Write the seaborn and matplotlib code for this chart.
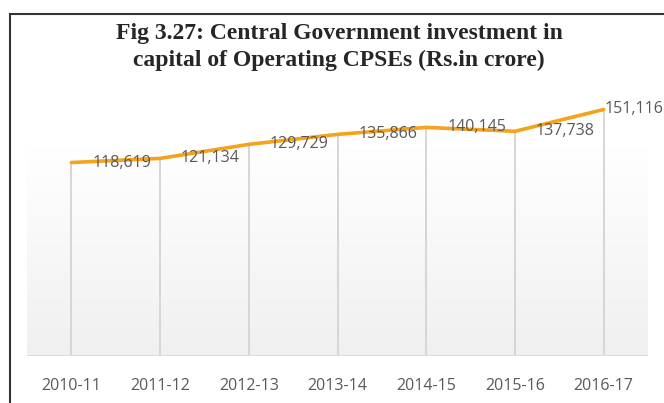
import numpy as np
import pandas as pd
import seaborn as sns
import matplotlib.pyplot as plt
from matplotlib.patches import Rectangle
from matplotlib.colors import LinearSegmentedColormap

# datos
years = ['2010-11', '2011-12', '2012-13', '2013-14', '2014-15', '2015-16', '2016-17']
investment = [118619, 121134, 129729, 135866, 140145, 137738, 151116]

df = pd.DataFrame({'year': years, 'investment': investment})

sns.set_style("white")
plt.rcParams['font.family'] = ['Open Sans', 'DejaVu Sans']

fig = plt.figure(figsize=(6.64, 4.03), dpi=100)
ax = fig.add_axes([27/664, 1 - 356/403, (648 - 27)/664, (356 - 95)/403])

# fondo con degradado blanco -> gris claro
grad = np.linspace(1.0, 0.0, 256).reshape(-1, 1)
grad = np.clip(grad * 1.25, 0, 1)
cmap = LinearSegmentedColormap.from_list('g', ['#f0f0f0', '#ffffff'])
ax.imshow(grad, cmap=cmap, extent=[0, 1, 0, 1], transform=ax.transAxes, aspect='auto', zorder=0)

# lineas verticales desde cada punto
ax.vlines(range(len(years)), 0, df['investment'], colors='#d6d6d6', linewidth=1.4, zorder=1)

sns.lineplot(data=df, x='year', y='investment', color='#F5A31A', linewidth=2.6, ax=ax, zorder=3, sort=False)

ax.axhline(0, color='#d9d9d9', linewidth=2, zorder=2)

# etiquetas de datos (la ultima pegada al punto para que quepa)
for i, v in enumerate(investment):
    dx = 15 if i < len(investment) - 1 else 1
    ax.annotate(f'{v:,}', (i, v), xytext=(dx, 0), textcoords='offset points',
                ha='left', va='center', fontsize=11.5, color='#595959', zorder=4)

ax.set_xlim(-0.5, len(years) - 0.5)
ax.set_ylim(0, 160000)
ax.set_yticks([])
ax.set_xlabel('')
ax.set_ylabel('')
ax.tick_params(axis='x', length=0, pad=16, labelsize=11.5, labelcolor='#595959')
for s in ax.spines.values():
    s.set_visible(False)

fig.text(339/664, 1 - 33/403, 'Fig 3.27: Central Government investment in',
         ha='center', va='center', fontsize=17, fontweight='bold', family='Liberation Serif')
fig.text(339/664, 1 - 60/403, 'capital of Operating CPSEs (Rs.in crore)',
         ha='center', va='center', fontsize=17, fontweight='bold', family='Liberation Serif')

# marco
fig.patches.append(Rectangle((10/664, -0.1), 1.2, (403 - 14)/403 + 0.1, transform=fig.transFigure,
                             fill=False, edgecolor='#333333', linewidth=1.5))

plt.savefig('out.png', dpi=100)
